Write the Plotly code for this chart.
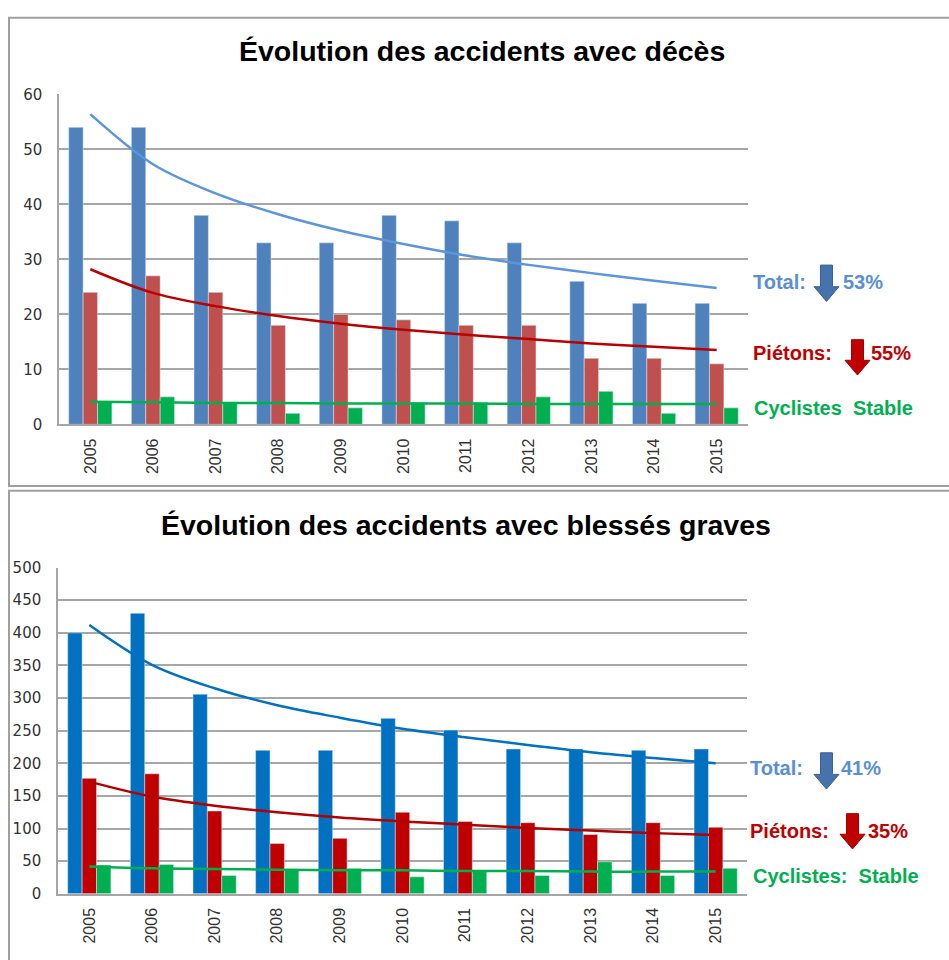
import plotly.graph_objects as go

# ---------------- data ----------------
years = ["2005", "2006", "2007", "2008", "2009", "2010", "2011", "2012", "2013", "2014", "2015"]

deaths_total = [54, 54, 38, 33, 33, 38, 37, 33, 26, 22, 22]
deaths_pietons = [24, 27, 24, 18, 20, 19, 18, 18, 12, 12, 11]
deaths_cyclistes = [4, 5, 4, 2, 3, 4, 4, 5, 6, 2, 3]
deaths_trend_total = [56.4, 47.3, 42.0, 38.2, 35.2, 32.8, 30.7, 29.0, 27.5, 26.1, 24.8]
deaths_trend_pietons = [28.2, 23.9, 21.5, 19.7, 18.3, 17.2, 16.3, 15.5, 14.7, 14.1, 13.5]
deaths_trend_cyclistes = [4.1, 4.0, 3.9, 3.9, 3.8, 3.8, 3.8, 3.7, 3.7, 3.7, 3.7]

injured_total = [400, 430, 306, 220, 220, 269, 251, 222, 222, 220, 222]
injured_pietons = [177, 184, 127, 77, 85, 125, 111, 109, 91, 109, 102]
injured_cyclistes = [44, 45, 28, 38, 39, 26, 35, 28, 49, 28, 39]
injured_trend_total = [412, 351, 315, 289, 270, 253, 240, 228, 217, 208, 200]
injured_trend_pietons = [172, 149, 135, 125, 117, 111, 106, 101, 97, 93, 90]
injured_trend_cyclistes = [42, 39, 38, 37, 36, 36, 35, 35, 34, 34, 34]

title_top = "Évolution des accidents avec décès"
title_bottom = "Évolution des accidents avec blessés graves"

W, H = 949, 960


def px(x):
    return x / W


def py(y):
    return 1 - y / H


fig = go.Figure()

# top chart
fig.add_trace(go.Bar(x=years, y=deaths_total, marker_color="#4F81BD", xaxis="x", yaxis="y", name="Total"))
fig.add_trace(go.Bar(x=years, y=deaths_pietons, marker_color="#C0504D", xaxis="x", yaxis="y", name="Piétons"))
fig.add_trace(go.Bar(x=years, y=deaths_cyclistes, marker_color="#00B050", xaxis="x", yaxis="y", name="Cyclistes"))
fig.add_trace(go.Scatter(x=years, y=deaths_trend_total, mode="lines", line=dict(color="#5B95DA", width=2.5, shape="spline"), xaxis="x", yaxis="y"))
fig.add_trace(go.Scatter(x=years, y=deaths_trend_pietons, mode="lines", line=dict(color="#B80000", width=2.5, shape="spline"), xaxis="x", yaxis="y"))
fig.add_trace(go.Scatter(x=years, y=deaths_trend_cyclistes, mode="lines", line=dict(color="#00B050", width=2.5, shape="spline"), xaxis="x", yaxis="y"))

# bottom chart
fig.add_trace(go.Bar(x=years, y=injured_total, marker_color="#0070C0", xaxis="x2", yaxis="y2", name="Total"))
fig.add_trace(go.Bar(x=years, y=injured_pietons, marker_color="#C00000", xaxis="x2", yaxis="y2", name="Piétons"))
fig.add_trace(go.Bar(x=years, y=injured_cyclistes, marker_color="#00B050", xaxis="x2", yaxis="y2", name="Cyclistes"))
fig.add_trace(go.Scatter(x=years, y=injured_trend_total, mode="lines", line=dict(color="#0070C0", width=2.5, shape="spline"), xaxis="x2", yaxis="y2"))
fig.add_trace(go.Scatter(x=years, y=injured_trend_pietons, mode="lines", line=dict(color="#B00000", width=2.5, shape="spline"), xaxis="x2", yaxis="y2"))
fig.add_trace(go.Scatter(x=years, y=injured_trend_cyclistes, mode="lines", line=dict(color="#00B050", width=2.5, shape="spline"), xaxis="x2", yaxis="y2"))

grid = "#A6A6A6"
xcommon = dict(type="category", range=[-0.5, 10.5], showgrid=False, showline=True, linecolor=grid, linewidth=1.5,
               tickangle=-90, ticks="", tickfont=dict(family="Liberation Sans, Arial", size=16, color="#333333"),
               ticklabelstandoff=6, fixedrange=True)
ycommon = dict(showgrid=True, gridcolor=grid, gridwidth=1.5, showline=True, linecolor=grid, linewidth=1.5,
               ticks="", tickfont=dict(family="DejaVu Sans, Verdana", size=15, color="#333333"),
               ticklabelstandoff=12, zeroline=False, fixedrange=True)

fig.update_layout(
    width=W, height=H,
    margin=dict(l=0, r=0, t=0, b=0),
    paper_bgcolor="white", plot_bgcolor="white",
    showlegend=False,
    barmode="group", bargap=0.31, bargroupgap=0,
    xaxis=dict(domain=[px(59), px(748)], anchor="y", **xcommon),
    yaxis=dict(domain=[py(423.3), py(87)], anchor="x", range=[0, 60], dtick=10, **ycommon),
    xaxis2=dict(domain=[px(58), px(747)], anchor="y2", **xcommon),
    yaxis2=dict(domain=[py(901.7), py(569.3)], anchor="x2", range=[0, 500], dtick=50, **ycommon),
)

# frames around the two charts (they run off the right / bottom edge)
box_line = dict(color="#A0A0A0", width=2)
fig.add_shape(type="rect", xref="paper", yref="paper", x0=px(9), y0=py(486), x1=px(975), y1=py(9), line=box_line, layer="below")
fig.add_shape(type="rect", xref="paper", yref="paper", x0=px(9), y0=py(990), x1=px(975), y1=py(491), line=box_line, layer="below")

title_font = dict(family="Liberation Sans, Arial, sans-serif", size=28.5, color="black", weight=700)
fig.add_annotation(text=title_top, xref="paper", yref="paper", x=px(482), y=py(43), xanchor="center", yanchor="middle",
                   showarrow=False, font=title_font)
fig.add_annotation(text=title_bottom, xref="paper", yref="paper", x=px(466), y=py(526), xanchor="center", yanchor="middle",
                   showarrow=False, font=title_font)


def label(text, x, y, color):
    fig.add_annotation(text=text, xref="paper", yref="paper", x=px(x), y=py(y), xanchor="left", yanchor="middle",
                       showarrow=False, font=dict(family="Liberation Sans, Arial", size=20, color=color, weight=700))


def arrow(cx, top, bottom, color, edge, sw=12, hw=25, hh=15):
    pts = [(cx - sw / 2, top), (cx + sw / 2, top), (cx + sw / 2, bottom - hh), (cx + hw / 2, bottom - hh),
           (cx, bottom), (cx - hw / 2, bottom - hh), (cx - sw / 2, bottom - hh)]
    path = "M " + " L ".join(f"{px(a):.5f},{py(b):.5f}" for a, b in pts) + " Z"
    fig.add_shape(type="path", xref="paper", yref="paper", path=path, fillcolor=color, line=dict(color=edge, width=1))


blue_txt = "#5A8FD4"
red_txt = "#C00000"
green_txt = "#00B050"

# top annotations
label("Total:", 751, 278, blue_txt)
arrow(826.5, 261, 298, "#4773AC", "#3B6190")
label("53%", 841, 278, blue_txt)
label("Piétons:", 751, 351, red_txt)
arrow(857.5, 337, 373, "#C00000", "#A00000")
label("55%", 869, 351, red_txt)
label("Cyclistes\u00a0 Stable", 752, 407, green_txt)

# bottom annotations
label("Total:", 748, 774, blue_txt)
arrow(826.5, 758, 795, "#4773AC", "#3B6190")
label("41%", 839, 774, blue_txt)
label("Piétons:", 748, 838, red_txt)
arrow(852.5, 820, 856, "#C00000", "#A00000")
label("35%", 866, 838, red_txt)
label("Cyclistes:\u00a0 Stable", 751, 884, green_txt)

fig.write_html("out.html", config={"displayModeBar": False},
               post_script="document.body.style.margin='0';document.body.style.overflow='hidden';")
